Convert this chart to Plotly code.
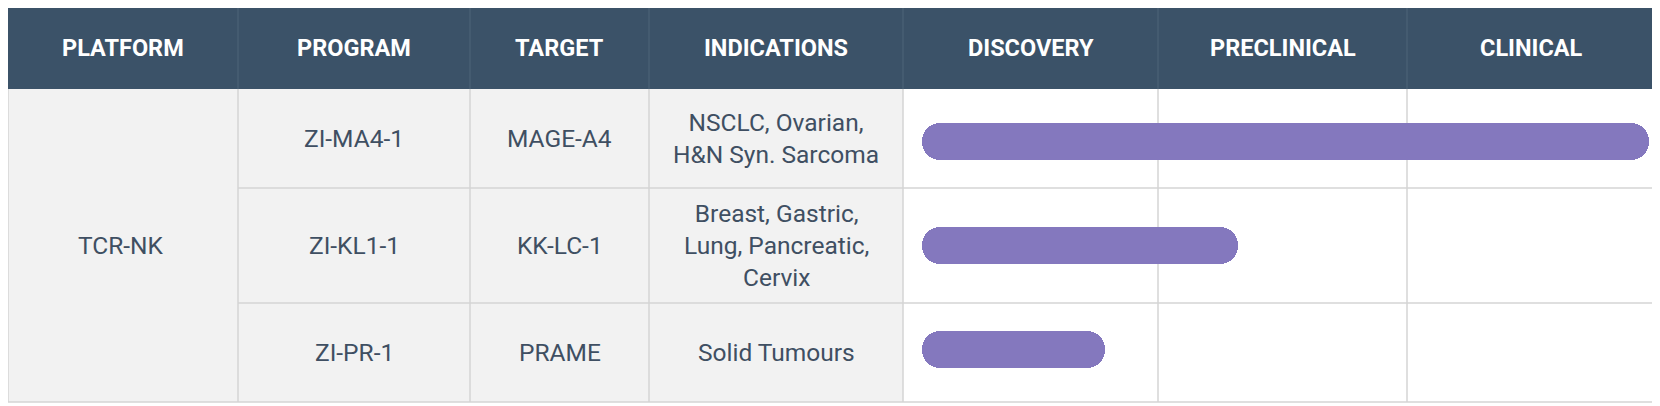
import plotly.graph_objects as go

# pipeline data
headers = ['PLATFORM', 'PROGRAM', 'TARGET', 'INDICATIONS',
           'DISCOVERY', 'PRECLINICAL', 'CLINICAL']
platform = 'TCR-NK'
programs = ['ZI-MA4-1', 'ZI-KL1-1', 'ZI-PR-1']
targets = ['MAGE-A4', 'KK-LC-1', 'PRAME']
indications = ['NSCLC, Ovarian,<br>H&N Syn. Sarcoma',
               'Breast, Gastric,<br>Lung, Pancreatic,<br>Cervix',
               'Solid Tumours']
# progress in phase units (0-1 discovery, 1-2 preclinical, 2-3 clinical)
bar_start = [0.076, 0.076, 0.076]
bar_end = [2.976, 1.336, 0.806]

# page has an 8px body margin, so the figure starts at (8, 8) in the window
OFF = 8
W, H = 1652, 398
col_edges = [8, 238, 470, 649, 903, 1158, 1407, 1655]
row_edges = [8, 89, 188, 303, 402]

HEADER_BG = '#3B5268'
BODY_BG = '#F2F2F2'
GRID = '#D4D4D4'
TEXT = '#3F4F62'
BAR = '#8478BE'
FONT = 'Roboto'


def px(x):
    return (x - OFF) / W


def py(y):
    return 1 - (y - OFF) / H


fig = go.Figure()

fig.add_trace(go.Bar(
    y=programs,
    x=[e - s for s, e in zip(bar_start, bar_end)],
    base=bar_start,
    orientation='h',
    width=0.355,
    marker=dict(color=BAR, cornerradius=19, line=dict(width=0)),
    hoverinfo='skip',
    showlegend=False,
))

shapes = []
# backgrounds
shapes.append(dict(type='rect', xref='paper', yref='paper',
                   x0=px(col_edges[0]), x1=px(col_edges[-1]),
                   y0=py(row_edges[1]), y1=py(row_edges[0]),
                   fillcolor=HEADER_BG, line=dict(width=0), layer='below'))
shapes.append(dict(type='rect', xref='paper', yref='paper',
                   x0=px(col_edges[0]), x1=px(col_edges[4]),
                   y0=py(row_edges[-1]), y1=py(row_edges[1]),
                   fillcolor=BODY_BG, line=dict(width=0), layer='below'))
# header separators
for x in col_edges[1:-1]:
    shapes.append(dict(type='line', xref='paper', yref='paper',
                       x0=px(x), x1=px(x), y0=py(row_edges[1]), y1=py(row_edges[0]),
                       line=dict(color='#4F6478', width=1), layer='below'))
# body vertical lines
for x in col_edges:
    shapes.append(dict(type='line', xref='paper', yref='paper',
                       x0=px(x), x1=px(x), y0=py(row_edges[-1]), y1=py(row_edges[1]),
                       line=dict(color=GRID, width=1.5), layer='below'))
# row lines (platform cell is merged)
for y in row_edges[2:-1]:
    shapes.append(dict(type='line', xref='paper', yref='paper',
                       x0=px(col_edges[1]), x1=px(col_edges[-1]), y0=py(y), y1=py(y),
                       line=dict(color=GRID, width=1.5), layer='below'))
shapes.append(dict(type='line', xref='paper', yref='paper',
                   x0=px(col_edges[0]), x1=px(col_edges[-1]),
                   y0=py(row_edges[-1]), y1=py(row_edges[-1]),
                   line=dict(color=GRID, width=1.5), layer='below'))

annotations = []
for i, h in enumerate(headers):
    annotations.append(dict(
        x=px((col_edges[i] + col_edges[i + 1]) / 2),
        y=py((6 + row_edges[1]) / 2),
        xref='paper', yref='paper', text=h, showarrow=False,
        xanchor='center', yanchor='middle',
        font=dict(family=FONT, size=23.5, color='white', weight='bold')))

annotations.append(dict(
    x=px((5 + col_edges[1]) / 2),
    y=py((row_edges[1] + row_edges[-1]) / 2),
    xref='paper', yref='paper', text=platform, showarrow=False,
    xanchor='center', yanchor='middle',
    font=dict(family=FONT, size=24.5, color=TEXT)))

for r in range(len(programs)):
    yc = py((row_edges[r + 1] + row_edges[r + 2]) / 2)
    for c, col in enumerate([programs, targets, indications]):
        annotations.append(dict(
            x=px((col_edges[c + 1] + col_edges[c + 2]) / 2), y=yc,
            xref='paper', yref='paper', text=col[r], showarrow=False,
            xanchor='center', yanchor='middle',
            font=dict(family=FONT, size=24.5, color=TEXT)))

fig.update_layout(
    width=W, height=H,
    margin=dict(l=0, r=0, t=0, b=0),
    paper_bgcolor='white',
    plot_bgcolor='rgba(0,0,0,0)',
    shapes=shapes,
    annotations=annotations,
    xaxis=dict(domain=[px(col_edges[4]), px(col_edges[-1])], range=[0, 3],
               visible=False, fixedrange=True),
    yaxis=dict(domain=[py(row_edges[-1]), py(row_edges[1])], range=[2.5, -0.5],
               visible=False, fixedrange=True),
    bargap=0,
)

fig.write_html('out.html')
